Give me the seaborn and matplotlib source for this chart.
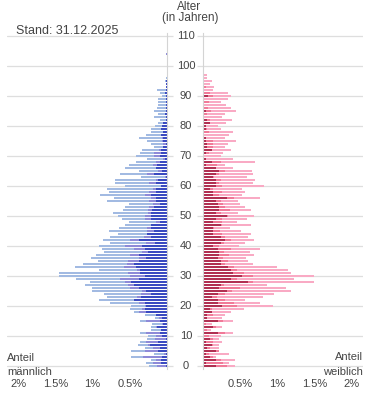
import matplotlib
matplotlib.use("Agg")
import matplotlib.pyplot as plt
import matplotlib.transforms as mtransforms
import numpy as np
import seaborn as sns

# ==============================
# DATA (Anteil in %, je Altersjahr 0..104)
# ==============================

ages = list(range(0, 105))

# maennlich: dunkel / mittel / hell
m_dark = [0.02, 0.08, 0.08, 0.07, 0.02, 0.12, 0.10, 0.23, 0.12, 0.02,
          0.07, 0.10, 0.08, 0.14, 0.05, 0.10, 0.07, 0.15, 0.28, 0.29,
          0.28, 0.30, 0.44, 0.35, 0.22, 0.28, 0.38, 0.44, 0.48, 0.38,
          0.30, 0.36, 0.36, 0.41, 0.45, 0.38, 0.28, 0.38, 0.25, 0.29,
          0.33, 0.16, 0.38, 0.22, 0.27, 0.18, 0.22, 0.21, 0.10, 0.21,
          0.21, 0.22, 0.20, 0.17, 0.10, 0.15, 0.15, 0.22, 0.15, 0.15,
          0.08, 0.15, 0.12, 0.02, 0.18, 0.07, 0.15, 0.14, 0.10, 0.03,
          0.10, 0.08, 0.08, 0.05, 0.02, 0.05, 0.05, 0.08, 0.05, 0.08,
          0.07, 0.05, 0.02, 0.02, 0.03, 0.02, 0.01, 0.02, 0.02, 0.02,
          0.02, 0.03, 0.01, 0.01, 0.01, 0.01, 0.00, 0.00, 0.00, 0.00,
          0.00, 0.00, 0.00, 0.00, 0.00]
m_mid = [0.12, 0.11, 0.07, 0.25, 0.02, 0.18, 0.09, 0.03, 0.16, 0.14,
         0.08, 0.18, 0.00, 0.01, 0.02, 0.18, 0.04, 0.00, 0.09, 0.04,
         0.02, 0.07, 0.00, 0.05, 0.13, 0.05, 0.12, 0.09, 0.09, 0.25,
         0.20, 0.17, 0.04, 0.17, 0.09, 0.15, 0.09, 0.12, 0.09, 0.16,
         0.24, 0.12, 0.12, 0.09, 0.00, 0.09, 0.05, 0.00, 0.05, 0.09,
         0.09, 0.04, 0.05, 0.07, 0.09, 0.09, 0.07, 0.07, 0.09, 0.04,
         0.00, 0.09, 0.03, 0.01, 0.09, 0.05, 0.00, 0.05, 0.05, 0.03,
         0.07, 0.09, 0.03, 0.00, 0.03, 0.02, 0.02, 0.00, 0.00, 0.00,
         0.00, 0.00, 0.00, 0.00, 0.00, 0.00, 0.00, 0.00, 0.00, 0.00,
         0.00, 0.00, 0.00, 0.00, 0.00, 0.00, 0.00, 0.00, 0.00, 0.00,
         0.00, 0.00, 0.00, 0.00, 0.01]
m_light = [0.10, 0.09, 0.06, 0.16, 0.14, 0.18, 0.11, 0.13, 0.08, 0.11,
           0.10, 0.08, 0.14, 0.06, 0.13, 0.08, 0.05, 0.15, 0.07, 0.17,
           0.18, 0.39, 0.47, 0.40, 0.50, 0.68, 0.51, 0.57, 0.47, 0.59,
           0.95, 0.92, 0.52, 0.66, 0.59, 0.40, 0.65, 0.46, 0.50, 0.42,
           0.34, 0.49, 0.36, 0.45, 0.39, 0.51, 0.37, 0.35, 0.36, 0.31,
           0.36, 0.47, 0.34, 0.32, 0.32, 0.57, 0.49, 0.61, 0.54, 0.62,
           0.48, 0.46, 0.55, 0.32, 0.36, 0.26, 0.41, 0.32, 0.27, 0.21,
           0.24, 0.19, 0.22, 0.13, 0.17, 0.20, 0.31, 0.20, 0.17, 0.14,
           0.09, 0.07, 0.08, 0.16, 0.09, 0.16, 0.12, 0.10, 0.10, 0.10,
           0.05, 0.07, 0.12, 0.00, 0.00, 0.02, 0.01, 0.00, 0.00, 0.00,
           0.00, 0.00, 0.00, 0.00, 0.00]

# weiblich: dunkel / mittel / hell
w_dark = [0.17, 0.04, 0.17, 0.09, 0.04, 0.17, 0.06, 0.12, 0.04, 0.09,
          0.01, 0.20, 0.01, 0.14, 0.00, 0.20, 0.06, 0.06, 0.12, 0.09,
          0.26, 0.20, 0.20, 0.12, 0.20, 0.32, 0.21, 0.24, 0.60, 0.37,
          0.52, 0.40, 0.37, 0.34, 0.24, 0.24, 0.20, 0.22, 0.21, 0.20,
          0.14, 0.24, 0.29, 0.24, 0.14, 0.14, 0.14, 0.24, 0.14, 0.17,
          0.32, 0.17, 0.21, 0.21, 0.20, 0.17, 0.32, 0.14, 0.14, 0.09,
          0.17, 0.17, 0.17, 0.14, 0.17, 0.21, 0.17, 0.04, 0.12, 0.04,
          0.01, 0.04, 0.12, 0.06, 0.06, 0.04, 0.04, 0.02, 0.01, 0.04,
          0.04, 0.09, 0.05, 0.02, 0.01, 0.04, 0.00, 0.00, 0.01, 0.01,
          0.07, 0.01, 0.00, 0.01, 0.00, 0.00, 0.00, 0.00, 0.00, 0.00,
          0.00, 0.00, 0.00, 0.00, 0.00]
w_mid = [0.15, 0.23, 0.07, 0.04, 0.04, 0.04, 0.04, 0.01, 0.09, 0.04,
         0.07, 0.09, 0.05, 0.03, 0.04, 0.07, 0.00, 0.07, 0.00, 0.03,
         0.20, 0.21, 0.09, 0.07, 0.09, 0.07, 0.29, 0.04, 0.07, 0.09,
         0.15, 0.15, 0.09, 0.07, 0.05, 0.09, 0.07, 0.13, 0.07, 0.17,
         0.07, 0.04, 0.09, 0.05, 0.12, 0.09, 0.01, 0.01, 0.12, 0.09,
         0.01, 0.07, 0.15, 0.09, 0.07, 0.07, 0.09, 0.07, 0.12, 0.04,
         0.09, 0.04, 0.07, 0.01, 0.04, 0.09, 0.00, 0.15, 0.12, 0.00,
         0.00, 0.04, 0.00, 0.07, 0.07, 0.09, 0.00, 0.00, 0.07, 0.01,
         0.00, 0.01, 0.05, 0.00, 0.04, 0.07, 0.07, 0.02, 0.07, 0.00,
         0.06, 0.09, 0.00, 0.03, 0.00, 0.00, 0.00, 0.00, 0.00, 0.00,
         0.00, 0.00, 0.00, 0.00, 0.00]
w_light = [0.11, 0.08, 0.19, 0.04, 0.27, 0.00, 0.11, 0.08, 0.13, 0.08,
           0.16, 0.11, 0.05, 0.09, 0.08, 0.13, 0.20, 0.16, 0.25, 0.43,
           0.48, 0.36, 0.28, 0.62, 0.66, 0.79, 0.62, 0.58, 0.82, 0.76,
           0.82, 0.63, 0.68, 0.59, 0.38, 0.27, 0.31, 0.33, 0.35, 0.40,
           0.28, 0.29, 0.31, 0.31, 0.39, 0.28, 0.21, 0.40, 0.20, 0.33,
           0.36, 0.23, 0.29, 0.27, 0.23, 0.23, 0.36, 0.31, 0.31, 0.39,
           0.56, 0.46, 0.46, 0.44, 0.46, 0.36, 0.23, 0.11, 0.46, 0.36,
           0.23, 0.19, 0.25, 0.16, 0.21, 0.31, 0.25, 0.33, 0.32, 0.19,
           0.16, 0.21, 0.29, 0.24, 0.24, 0.33, 0.30, 0.29, 0.16, 0.33,
           0.25, 0.24, 0.14, 0.11, 0.09, 0.12, 0.06, 0.06, 0.01, 0.01,
           0.01, 0.00, 0.00, 0.00, 0.01]

age_ticks = list(range(0, 111, 10))
share_ticks = [0.5, 1, 1.5, 2]
share_labels = ["0.5%", "1%", "1.5%", "2%"]

m_colors = ["#3a4ac0", "#8e8ad8", "#a2bae2"]
w_colors = ["#b03052", "#f07a98", "#f9aac4"]

# ==============================
# CONFIGURATION
# ==============================

sns.set_theme(style="white")
plt.rcParams["font.family"] = ["Liberation Sans", "DejaVu Sans"]
text_col = "#444444"
grid_col = "#dedede"

W, H = 375, 416
fig = plt.figure(figsize=(W / 100, H / 100), dpi=100)


def box(x0, x1, top, bottom):
    return [x0 / W, 1 - bottom / H, (x1 - x0) / W, (bottom - top) / H]


# 336 px hoch fuer 112 Jahre -> genau 3 px pro Altersjahr
ax_m = fig.add_axes(box(7, 167, 33, 369))
ax_w = fig.add_axes(box(203, 363, 33, 369))


def draw_side(ax, dark, mid, light, colors):
    dark = np.array(dark)
    mid = np.array(mid)
    light = np.array(light)
    stacks = [dark + mid + light, dark + mid, dark]
    for vals, col in zip(stacks, colors[::-1]):
        sns.barplot(x=vals, y=ages, orient="h", native_scale=True,
                    color=col, saturation=1, width=2 / 3, linewidth=0,
                    errorbar=None, ax=ax)


draw_side(ax_m, m_dark, m_mid, m_light, m_colors)
draw_side(ax_w, w_dark, w_mid, w_light, w_colors)

for ax in (ax_m, ax_w):
    ax.set_ylim(-1.0, 111.0)
    ax.set_yticks(age_ticks)
    ax.set_yticklabels([])
    ax.grid(axis="y", color=grid_col, linewidth=0.9)
    ax.grid(axis="x", visible=False)
    ax.set_axisbelow(True)
    ax.set_xticks(share_ticks)
    ax.set_xticklabels(share_labels, fontsize=8, color=text_col)
    ax.tick_params(axis="x", length=0, pad=7)
    ax.set_xlabel("")
    ax.set_ylabel("")
    for s in ax.spines.values():
        s.set_visible(False)

ax_m.set_xlim(2.15, 0)
ax_w.set_xlim(0, 2.15)

ax_m.spines["right"].set_visible(True)
ax_m.spines["right"].set_color("#d4d4d4")
ax_m.spines["right"].set_linewidth(0.8)
ax_m.yaxis.tick_right()
ax_m.tick_params(axis="y", length=4, color=grid_col, width=0.9)

ax_w.spines["left"].set_visible(True)
ax_w.spines["left"].set_color("#d4d4d4")
ax_w.spines["left"].set_linewidth(0.8)
ax_w.yaxis.tick_left()
ax_w.tick_params(axis="y", length=4, color=grid_col, width=0.9)

# Altersbeschriftung in der Mitte
trans = mtransforms.blended_transform_factory(fig.transFigure, ax_w.transData)
for a in age_ticks:
    fig.text(186 / W, a, str(a), transform=trans, ha="center", va="center",
             fontsize=8, color=text_col)

fig.text(189 / W, 1 - 7 / H, "Alter", ha="center", va="center",
         fontsize=8.5, color=text_col)
fig.text(190 / W, 1 - 18 / H, "(in Jahren)", ha="center", va="center",
         fontsize=8.5, color=text_col)

fig.text(16 / W, 1 - 31 / H, "Stand: 31.12.2025", ha="left", va="center",
         fontsize=9, color=text_col)

fig.text(7 / W, 1 - 358 / H, "Anteil", ha="left", va="center",
         fontsize=8, color=text_col)
fig.text(7 / W, 1 - 372 / H, "männlich", ha="left", va="center",
         fontsize=8, color=text_col)
fig.text(363 / W, 1 - 357 / H, "Anteil", ha="right", va="center",
         fontsize=8, color=text_col)
fig.text(363 / W, 1 - 372 / H, "weiblich", ha="right", va="center",
         fontsize=8, color=text_col)

fig.savefig("out.png", dpi=100)
